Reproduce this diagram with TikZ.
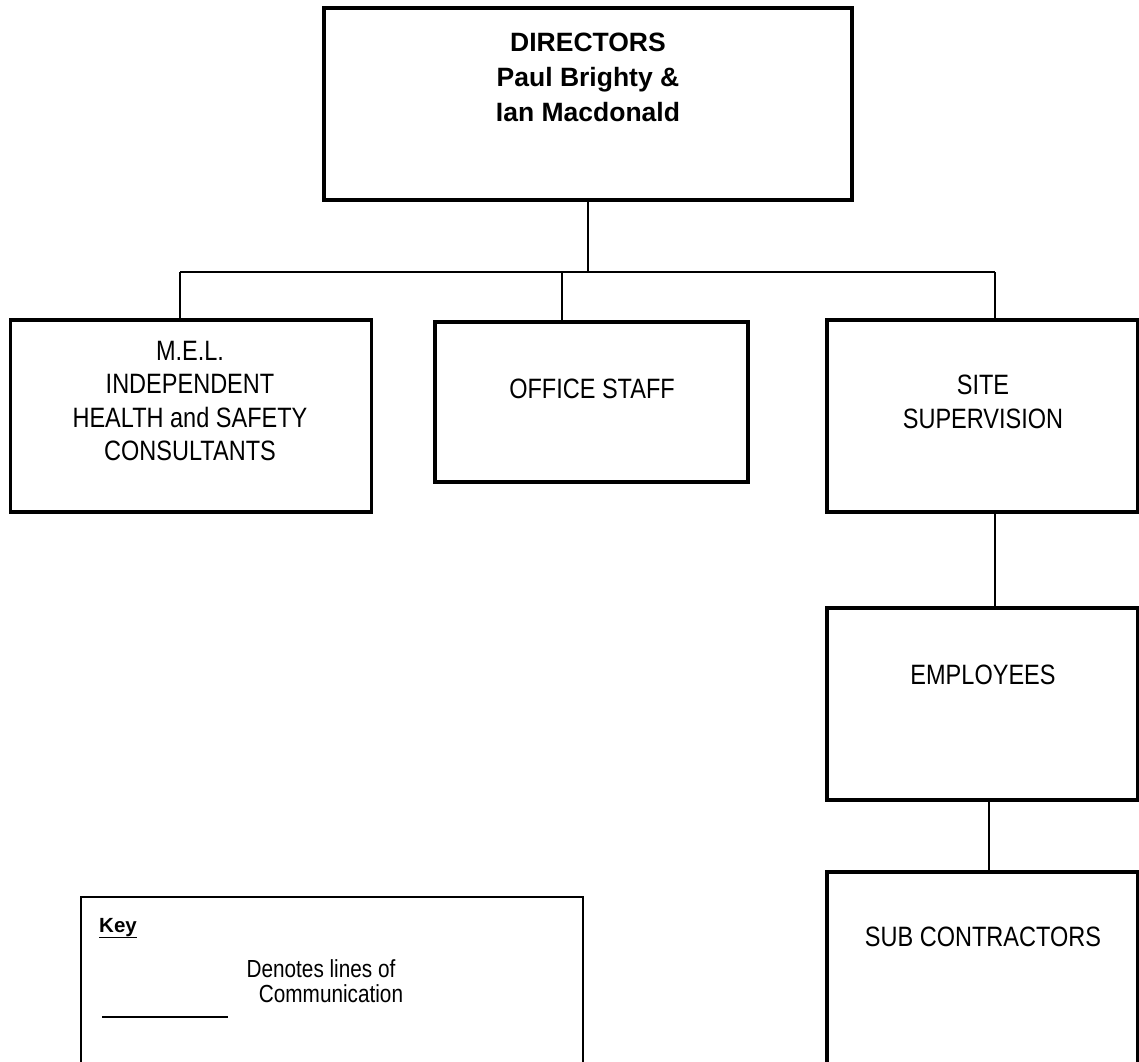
\documentclass[tikz,border=0pt]{standalone}
\usepackage{fontspec}
\setmainfont{Liberation Sans}[FakeStretch=0.84]
\newfontfamily\headfont{Liberation Sans}
\usepackage{tikz}

\begin{document}
\begin{tikzpicture}[x=1pt,y=-1pt,
    box/.style={draw,line width=3.6pt,inner sep=0pt,outer sep=0pt,minimum width=311pt,minimum height=192pt},
    link/.style={line width=1.6pt},
    lbl/.style={anchor=north,inner sep=0pt,align=center,font=\fontsize{28}{33.5}\selectfont}]
        \clip (0,0) rectangle (1139,1061);
        \fill[white] (0,0) rectangle (1139,1061);
        \node[box,minimum width=528pt] (dir) at (588,104) {};
        \node[box,minimum width=361pt] (mel) at (191,416) {};
        \node[box,minimum width=313pt,minimum height=160pt] (office) at (591.5,402) {};
        \node[box] (site) at (982.5,416) {};
        \node[box] (emp) at (982.5,704) {};
        \node[box] (sub) at (982.5,968) {};
        \node[draw,line width=2pt,inner sep=0pt,minimum width=502pt,minimum height=192pt] (key) at (332,993) {};
        \node[lbl,font=\headfont\bfseries\fontsize{26.5}{35}\selectfont] (dir-txt) at (588,33) {DIRECTORS\\Paul Brighty \&\\Ian Macdonald};
        \node[lbl] (mel-txt) at (190,341) {M.E.L.\\INDEPENDENT\\HEALTH and SAFETY\\CONSULTANTS};
        \node[lbl] (office-txt) at (592,379) {OFFICE STAFF};
        \node[lbl] (site-txt) at (983,375) {SITE\\SUPERVISION};
        \node[lbl] (emp-txt) at (983,665) {EMPLOYEES};
        \node[lbl] (sub-txt) at (983,927) {SUB CONTRACTORS};
        \node[anchor=base west,inner sep=0pt,font=\headfont\bfseries\fontsize{20.5}{24}\selectfont] (key-txt) at (99,932) {\underline{Key}};
        \node[lbl,font=\fontsize{24.7}{25}\selectfont] (key-note) at (321,959) {Denotes lines of\\\hspace*{20pt}Communication};
        \coordinate (busL) at (180,272);
        \coordinate (busO) at (562,272);
        \coordinate (busR) at (995,272);
        \coordinate (keyL) at (102,1017);
        \coordinate (keyR) at (228,1017);
        \draw[link] (dir.south) -- (dir.south |- busL);
        \draw[link] (busL) -- (busR);
        \draw[link] (busL) -- (busL |- mel.north);
        \draw[link] (busO) -- (busO |- office.north);
        \draw[link] (busR) -- (busR |- site.north);
        \draw[link] (busR |- site.south) -- (busR |- emp.north);
        \draw[link] ([xshift=6.5pt]emp.south) -- ([xshift=6.5pt]sub.north);
        \draw[link] (keyL) -- (keyR);
\end{tikzpicture}
\end{document}
